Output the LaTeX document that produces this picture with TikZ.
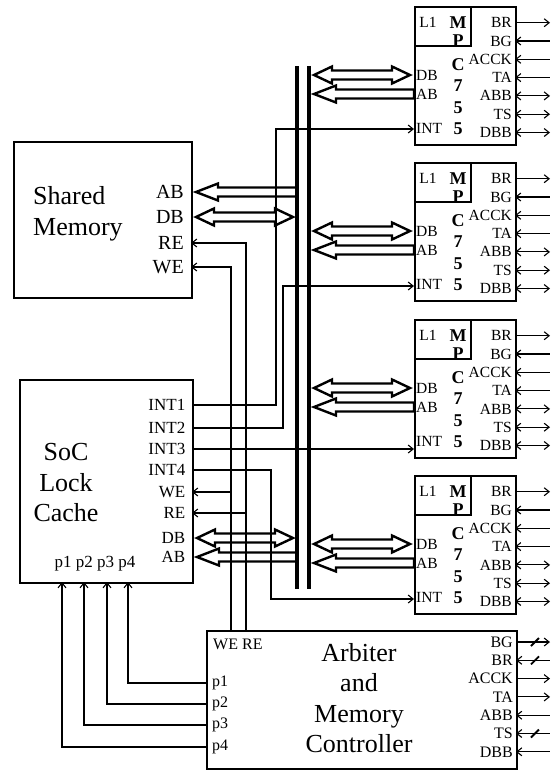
\documentclass[tikz,border=0pt]{standalone}
\usepackage{fontspec}
\setmainfont{Liberation Serif}
\usetikzlibrary{arrows.meta,calc}

\tikzset{
  box/.style={draw, line width=1.6pt, inner sep=0pt},
  wire/.style={line width=1.1pt},
  hollow/.style={line width=2.4pt, line join=miter},
  bus/.style={line width=4pt},
  slash/.style={line width=1.8pt},
  >={Straight Barb[length=5pt,width=8pt]},
  toR/.style={->},
  toL/.style={<-},
  both/.style={<->},
  bigtxt/.style={align=center, inner sep=0pt, font=\fontsize{26}{30.5}\selectfont},
  memlbl/.style={anchor=east, inner sep=0pt, font=\fontsize{20}{22}\selectfont},
  soclbl/.style={anchor=east, inner sep=0pt, font=\fontsize{17}{19}\selectfont},
  arblbl/.style={anchor=east, inner sep=0pt, font=\fontsize{16}{18}\selectfont},
  mpclbl/.style={anchor=east, inner sep=0pt, font=\fontsize{15.5}{17}\selectfont},
  chip/.style={inner sep=0pt, font=\bfseries\fontsize{18}{20}\selectfont}
}

% hollow bus arrows, tip at the left end
\newcommand{\oneway}[2]{%
  \draw[hollow] let \p1=(#1), \p2=(#2) in
    (\x1+5pt,\y1) -- (\x1+27pt,\y1+8.5pt) -- (\x1+27pt,\y1+4.5pt) -- (\x2,\y1+4.5pt)
    -- (\x2,\y1-4.5pt) -- (\x1+27pt,\y1-4.5pt) -- (\x1+27pt,\y1-8.5pt) -- cycle;}
\newcommand{\twoway}[2]{%
  \draw[hollow] let \p1=(#1), \p2=(#2) in
    (\x1+5pt,\y1) -- (\x1+23pt,\y1+8.5pt) -- (\x1+23pt,\y1+4.5pt) -- (\x2-22pt,\y1+4.5pt)
    -- (\x2-22pt,\y1+8.5pt) -- (\x2-4pt,\y1) -- (\x2-22pt,\y1-8.5pt) -- (\x2-22pt,\y1-4.5pt)
    -- (\x1+23pt,\y1-4.5pt) -- (\x1+23pt,\y1-8.5pt) -- cycle;}

\begin{document}
\begin{tikzpicture}[x=1pt,y=-1pt]
\useasboundingbox (0,0) rectangle (551,772);

\coordinate (bus1-top) at (297,66);
\coordinate (bus1-bot) at (297,589);
\coordinate (bus2-top) at (309,66);
\coordinate (bus2-bot) at (309,589);

% shared memory
\node[box, anchor=north west, minimum width=178pt, minimum height=156pt] (mem) at (13,141) {};
\node[bigtxt, align=left, anchor=west] (mem-name) at (33,214) {Shared\\Memory};
\foreach \lab/\yy in {AB/192, DB/217, RE/243, WE/267}{
  \coordinate (mem-\lab) at (191,\yy);
  \node[memlbl] (mem-\lab-txt) at (184,\yy) {\lab};
}

% soc lock cache
\node[box, anchor=north west, minimum width=173pt, minimum height=203pt] (soc) at (19,379) {};
\node[bigtxt] (soc-name) at (66,483) {SoC\\Lock\\Cache};
\foreach \lab/\yy in {INT1/405, INT2/428, INT3/449, INT4/470, WE/492, RE/513, DB/538, AB/557}{
  \coordinate (soc-\lab) at (192,\yy);
  \node[soclbl] (soc-\lab-txt) at (185.5,\yy) {\lab};
}
\node[soclbl, anchor=center] (soc-p) at (95,564) {p1 p2 p3 p4};
\foreach \n/\xx in {1/62, 2/84, 3/107, 4/128}
  \coordinate (soc-p\n) at (\xx,582);

% arbiter
\node[box, anchor=north west, minimum width=310pt, minimum height=138pt] (arb) at (206,630) {};
\node[bigtxt] (arb-name) at (359,698) {Arbiter\\and\\Memory\\Controller};
\node[arblbl, anchor=west] (arb-wr) at (213,644) {WE RE};
\coordinate (arb-WE) at (231,630);
\coordinate (arb-RE) at (246,630);
\foreach \n/\yy in {1/683, 2/704, 3/725, 4/747}{
  \coordinate (arb-p\n) at (206,\yy);
  \node[arblbl, anchor=west] (arb-p\n-txt) at (212,\yy) {p\n};
}
\foreach \lab/\dir/\mk [count=\k from 0] in {BG/toR/1, BR/toL/1, ACCK/toR/0, TA/toR/0, ABB/toL/0, TS/toL/1, DBB/toL/0}{
  \coordinate (arb-\lab) at (516,{642+18.3*\k});
  \coordinate (arb-\lab-end) at (550,{642+18.3*\k});
  \node[arblbl] (arb-\lab-txt) at (513,{642+18.3*\k}) {\lab};
  \draw[wire,\dir] (arb-\lab) -- (arb-\lab-end);
  \ifnum\mk=1 \draw[slash] ([xshift=19pt]arb-\lab) +(-4pt,-4pt) -- +(4pt,4pt); \fi
}

% processors
\foreach \i/\yt/\yint in {1/6/129, 2/162/286, 3/319/449, 4/475/599}{
  \node[box, anchor=north west, minimum width=101pt, minimum height=138pt] (mpc\i) at (414,\yt) {};
  \node[box, anchor=north west, minimum width=56pt, minimum height=39pt] (mpc\i-l1) at (414,\yt) {};
  \node[mpclbl, anchor=center] (mpc\i-l1-txt) at (428,{\yt+16.7}) {L1};
  \foreach \glyph/\dy [count=\nn] in {M/16.5, P/35, C/59, 7/80, 5/101.5, 5/123}
    \node[chip] (mpc\i-ch\nn) at (458,{\yt+\dy}) {\glyph};
  \coordinate (mpc\i-DB) at (414,{\yt+69});
  \coordinate (mpc\i-AB) at (414,{\yt+88});
  \coordinate (mpc\i-INT) at (414,\yint);
  \node[mpclbl, anchor=west] (mpc\i-DB-txt) at (416,{\yt+69}) {DB};
  \node[mpclbl, anchor=west] (mpc\i-AB-txt) at (416,{\yt+88}) {AB};
  \node[mpclbl, anchor=west] (mpc\i-INT-txt) at (416,{\yt+122.5}) {INT};
  \foreach \lab/\dir [count=\k from 0] in {BR/toR, BG/toL, ACCK/toL, TA/toL, ABB/both, TS/both, DBB/both}{
    \coordinate (mpc\i-\lab) at (515,{\yt+16.7+18.3*\k});
    \coordinate (mpc\i-\lab-end) at (550,{\yt+16.7+18.3*\k});
    \node[mpclbl] (mpc\i-\lab-txt) at (512,{\yt+16.7+18.3*\k}) {\lab};
    \draw[wire,\dir] (mpc\i-\lab) -- (mpc\i-\lab-end);
  }
  \twoway{mpc\i-DB -| bus2-top}{mpc\i-DB}
  \oneway{mpc\i-AB -| bus2-top}{mpc\i-AB}
}

% memory side of the bus
\oneway{mem-AB}{mem-AB -| bus1-top}
\twoway{mem-DB}{mem-DB -| bus1-top}
\twoway{soc-DB}{soc-DB -| bus1-top}
\oneway{soc-AB}{soc-AB -| bus1-top}

% interrupts
\coordinate (int1-bend) at (276,129);
\coordinate (int2-bend) at (283,286);
\coordinate (int4-bend) at (271,599);
\draw[wire,toR] (soc-INT1) -| (int1-bend) -- (mpc1-INT);
\draw[wire,toR] (soc-INT2) -| (int2-bend) -- (mpc2-INT);
\draw[wire,toR] (soc-INT3) -- (mpc3-INT);
\draw[wire,toR] (soc-INT4) -| (int4-bend) -- (mpc4-INT);

% read/write enables
\draw[wire,toR] (arb-WE) |- (mem-WE);
\draw[wire,toR] (arb-WE |- soc-WE) -- (soc-WE);
\draw[wire,toR] (arb-RE) |- (mem-RE);
\draw[wire,toR] (arb-RE |- soc-RE) -- (soc-RE);

% lock requests
\foreach \n/\m in {1/4, 2/3, 3/2, 4/1}
  \draw[wire,toR] (arb-p\n) -| (soc-p\m);

\draw[bus] (bus1-top) -- (bus1-bot);
\draw[bus] (bus2-top) -- (bus2-bot);
\end{tikzpicture}
\end{document}
